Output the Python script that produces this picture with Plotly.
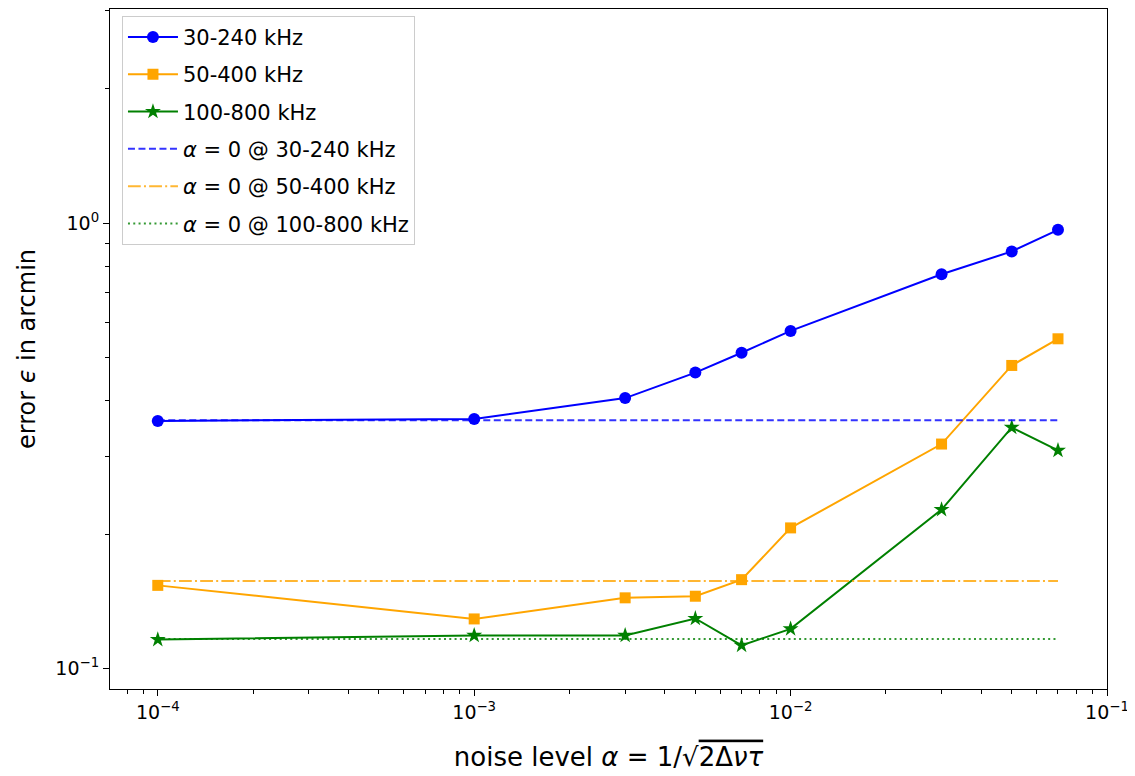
import plotly.graph_objects as go

alpha = [1e-4, 1e-3, 3e-3, 5e-3, 7e-3, 1e-2, 3e-2, 5e-2, 7e-2]
err_30_240 = [0.360, 0.3635, 0.405, 0.462, 0.512, 0.573, 0.768, 0.864, 0.966]
err_50_400 = [0.1539, 0.1294, 0.1443, 0.1455, 0.1585, 0.2071, 0.3194, 0.4794, 0.5502]
err_100_800 = [0.1163, 0.1188, 0.1188, 0.1297, 0.1129, 0.1229, 0.2276, 0.348, 0.309]
base_30_240 = 0.3613
base_50_400 = 0.1575
base_100_800 = 0.1166
base_x = [1e-4, 7e-2]

fig = go.Figure()
font = "DejaVu Sans"

fig.add_trace(go.Scatter(x=alpha, y=err_30_240, mode="lines+markers", name="30-240 kHz",
                         line=dict(color="#0000ff", width=2),
                         marker=dict(symbol="circle", size=12, color="#0000ff"),
                         legendgroup="a"))
fig.add_trace(go.Scatter(x=alpha, y=err_50_400, mode="lines+markers", name="50-400 kHz",
                         line=dict(color="#ffa500", width=2),
                         marker=dict(symbol="square", size=11, color="#ffa500"),
                         legendgroup="b"))
fig.add_trace(go.Scatter(x=alpha, y=err_100_800, mode="lines+markers", name="100-800 kHz",
                         line=dict(color="#008000", width=2),
                         marker=dict(symbol="star", size=12, color="#008000"),
                         legendgroup="c"))
fig.add_trace(go.Scatter(x=base_x, y=[base_30_240] * 2, mode="lines",
                         name="<i>α</i> = 0 @ 30-240 kHz", opacity=0.8,
                         line=dict(color="#0000ff", width=2, dash="7px,3.5px"),
                         legendgroup="d"))
fig.add_trace(go.Scatter(x=base_x, y=[base_50_400] * 2, mode="lines",
                         name="<i>α</i> = 0 @ 50-400 kHz", opacity=0.8,
                         line=dict(color="#ffa500", width=2, dash="12.8px,3.2px,2px,3.2px"),
                         legendgroup="e"))
fig.add_trace(go.Scatter(x=base_x, y=[base_100_800] * 2, mode="lines",
                         name="<i>α</i> = 0 @ 100-800 kHz", opacity=0.8,
                         line=dict(color="#008000", width=2, dash="2px,3.3px"),
                         legendgroup="f"))

axis_common = dict(type="log", showline=True, linecolor="black", linewidth=1.2, mirror=True,
                   ticks="outside", ticklen=6, tickwidth=1.2, tickcolor="black",
                   showgrid=False, zeroline=False, automargin=False,
                   tickfont=dict(family=font, size=19, color="black"),
                   minor=dict(ticks="outside", ticklen=3.5, tickwidth=1, tickcolor="black",
                              dtick="D1", showgrid=False))

fig.update_layout(
    width=1135, height=776,
    margin=dict(l=102, r=36, t=1, b=95),
    plot_bgcolor="white", paper_bgcolor="white",
    font=dict(family=font, color="black"),
    xaxis=dict(axis_common, range=[-4.151, -1.0],
               tickvals=[1e-4, 1e-3, 1e-2, 1e-1],
               ticktext=["10<sup>−4</sup>", "10<sup>−3</sup>", "10<sup>−2</sup>", "10<sup>−1</sup>"],
               title=dict(text="noise level <i>α</i> = 1/√<span style='text-decoration:overline'>2Δ<i>ντ</i></span>",
                          font=dict(family=font, size=26), standoff=25)),
    yaxis=dict(axis_common, range=[-1.0453, 0.4805],
               tickvals=[1e-1, 1e0],
               ticktext=["10<sup>−1</sup>", "10<sup>0</sup>"],
               title=dict(text="error <i>ϵ</i> in arcmin", font=dict(family=font, size=24), standoff=12)),
    legend=dict(x=0.012, y=0.99, xanchor="left", yanchor="top",
                bgcolor="rgba(255,255,255,0.8)", bordercolor="#cccccc", borderwidth=1,
                font=dict(family=font, size=21), tracegroupgap=7, itemwidth=50),
    showlegend=True,
)

fig.write_html("out.html")
